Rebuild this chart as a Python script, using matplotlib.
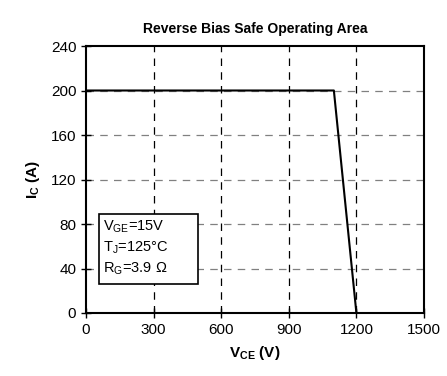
import matplotlib
matplotlib.use("Agg")
import matplotlib.pyplot as plt
from matplotlib.patches import Rectangle

plt.rcParams['font.family'] = ['Liberation Sans', 'DejaVu Sans']

# RBSOA boundary
vce = [0, 1100, 1200]
ic = [200, 200, 0]

xticks = [0, 300, 600, 900, 1200, 1500]
yticks = [0, 40, 80, 120, 160, 200, 240]

fig = plt.figure(figsize=(4.47, 3.76), dpi=100)
ax = fig.add_axes([86/447, 1 - 313/376, 338/447, 267/376])

ax.plot(vce, ic, color='black', lw=1.5, zorder=3)

ax.set_xlim(0, 1500)
ax.set_ylim(0, 240)
ax.set_xticks(xticks)
ax.set_yticks(yticks)
ax.tick_params(direction='inout', length=7, width=1, labelsize=11)

for x in xticks[1:-1]:
    ax.axvline(x, color='black', lw=0.9, ls=(0, (6, 5)), zorder=1)
for y in yticks[1:-1]:
    ax.axhline(y, color='#808080', lw=0.9, ls=(0, (6, 5)), zorder=1)

for s in ax.spines.values():
    s.set_linewidth(1.5)

ax.set_title('Reverse Bias Safe Operating Area', fontsize=10, fontweight='bold', pad=9)
ax.set_xlabel('V$_\\mathregular{CE}$ (V)', fontsize=11, fontweight='bold', labelpad=5)
ax.set_ylabel('I$_\\mathregular{C}$ (A)', fontsize=11, fontweight='bold', labelpad=6)

# condition box
ax.add_patch(Rectangle((58, 26), 439, 63, facecolor='white', edgecolor='black', lw=1.2, zorder=4))
txt = 'V$_\\mathregular{GE}$=15V\nT$_\\mathregular{J}$=125°C\nR$_\\mathregular{G}$=3.9 Ω'
ax.text(75, 85, txt, fontsize=10.5, va='top', ha='left', linespacing=1.35, zorder=5)

fig.savefig('out.png', dpi=100)
